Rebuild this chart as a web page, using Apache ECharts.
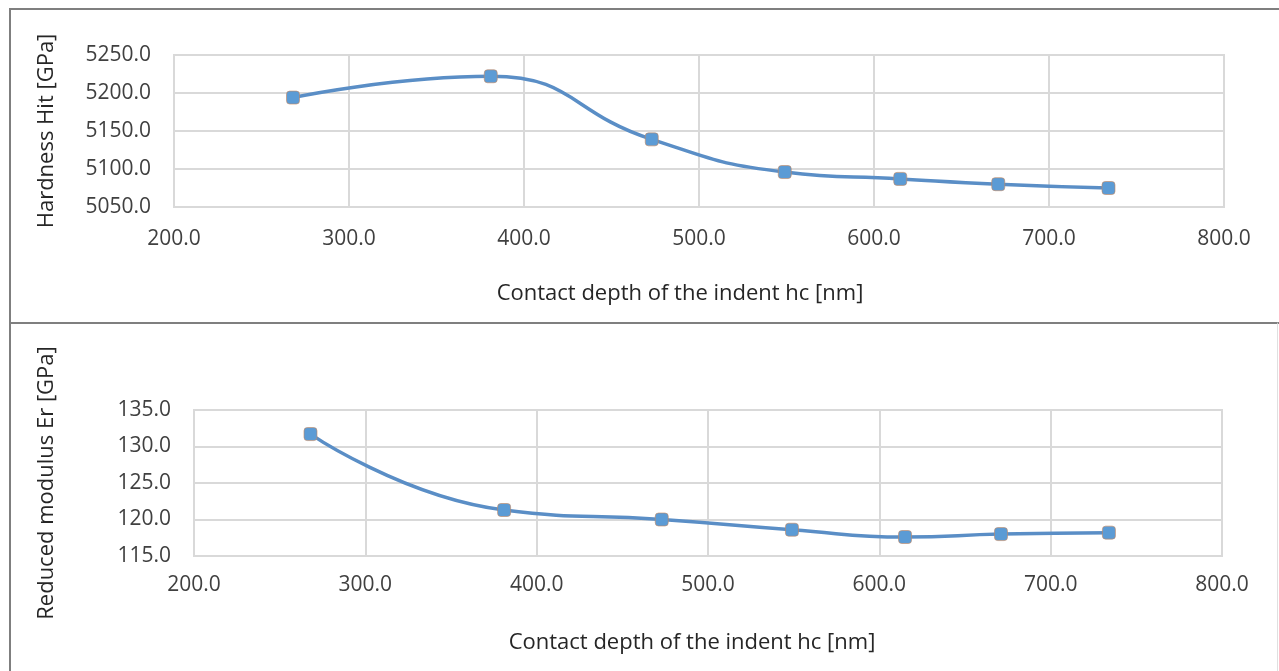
<!DOCTYPE html>
<html>
<head>
<meta charset="utf-8">
<title>Hardness and reduced modulus vs contact depth</title>
<script src="https://cdn.jsdelivr.net/npm/echarts@6/dist/echarts.min.js"></script>
<style>
  html, body { margin: 0; padding: 0; background: #fff; }
  #wrap { position: relative; width: 1279px; height: 671px; overflow: hidden; }
  .panel { position: absolute; box-sizing: border-box; }
  #panelTop { left: 9px; top: 8px; width: 1290px; height: 316px; border: 2px solid #7f7f7f; }
  #panelBottom { left: 9px; top: 322px; width: 1269px; height: 360px; border: 2px solid #7f7f7f; border-right: 1px solid #e0e0e0; }
  #chart { position: absolute; left: 0; top: 0; width: 1279px; height: 671px; }
</style>
</head>
<body>
<div id="wrap">
  <div class="panel" id="panelTop"></div>
  <div class="panel" id="panelBottom"></div>
  <div id="chart"></div>
</div>
<script>
// contact depth hc [nm], shared by both plots
const depth = [268, 381, 473, 549, 615, 671, 734];
// hardness Hit [GPa]
const hardness = [5194, 5222, 5139, 5096, 5087, 5080, 5075];
// reduced modulus Er [GPa]
const modulus = [131.7, 121.3, 120.0, 118.6, 117.6, 118.0, 118.2];

const xTicks = { min: 200, max: 800, interval: 100 };
const hardTicks = { min: 5050, max: 5250, interval: 50 };
const modTicks = { min: 115, max: 135, interval: 5 };

const COLORS = {
  line: "#5a8ec6",
  marker: "#5b9bd5",
  grid: "#d9d9d9",
  tick: "#404040",
  name: "#262626",
};
const FONT = "'Open Sans', 'Noto Sans', sans-serif";

function pairs(xs, ys) {
  return xs.map((x, i) => [x, ys[i]]);
}

function xAxisFor(gridIndex, namePad) {
  return {
    type: "value",
    gridIndex,
    ...xTicks,
    name: "Contact depth of the indent hc [nm]",
    nameLocation: "middle",
    nameGap: 76,
    nameTextStyle: { fontFamily: FONT, fontSize: 22, color: COLORS.name, padding: namePad },
    axisLine: { show: true, lineStyle: { color: COLORS.grid, width: 2 } },
    axisTick: { show: false },
    axisLabel: { fontFamily: FONT, fontSize: 21, color: COLORS.tick, margin: gridIndex === 0 ? 22 : 19, formatter: (v) => v.toFixed(1) },
    splitLine: { show: true, lineStyle: { color: COLORS.grid, width: 2 } },
  };
}

function yAxisFor(gridIndex, ticks, name, gap) {
  return {
    type: "value",
    gridIndex,
    ...ticks,
    name,
    nameLocation: "middle",
    nameGap: gap,
    nameTextStyle: { fontFamily: FONT, fontSize: 22, color: COLORS.name },
    axisLine: { show: true, lineStyle: { color: COLORS.grid, width: 2 } },
    axisTick: { show: false },
    axisLabel: { fontFamily: FONT, fontSize: 21, color: COLORS.tick, margin: 23, formatter: (v) => v.toFixed(1) },
    splitLine: { show: true, lineStyle: { color: COLORS.grid, width: 2 } },
  };
}

function lineSeries(index, ys) {
  return {
    type: "line",
    xAxisIndex: index,
    yAxisIndex: index,
    smooth: 0.5,
    data: pairs(depth, ys),
    symbol: "roundRect",
    symbolSize: 13,
    itemStyle: { color: COLORS.marker, borderColor: "#c9875a", borderWidth: 0.6 },
    lineStyle: { color: COLORS.line, width: 3.5 },
    z: 3,
  };
}

const chart = echarts.init(document.getElementById("chart"));
chart.setOption({
  animation: false,
  grid: [
    { left: 174, top: 55, right: 55, height: 152, show: true, borderColor: COLORS.grid, borderWidth: 2 },
    { left: 194, top: 410, right: 57, height: 146, show: true, borderColor: COLORS.grid, borderWidth: 2 },
  ],
  xAxis: [xAxisFor(0, [0, 38, 0, 0]), xAxisFor(1, [0, 32, 0, 0])],
  yAxis: [
    yAxisFor(0, hardTicks, "Hardness Hit [GPa]", 116),
    yAxisFor(1, modTicks, "Reduced modulus Er [GPa]", 136),
  ],
  series: [lineSeries(0, hardness), lineSeries(1, modulus)],
});
</script>
</body>
</html>
